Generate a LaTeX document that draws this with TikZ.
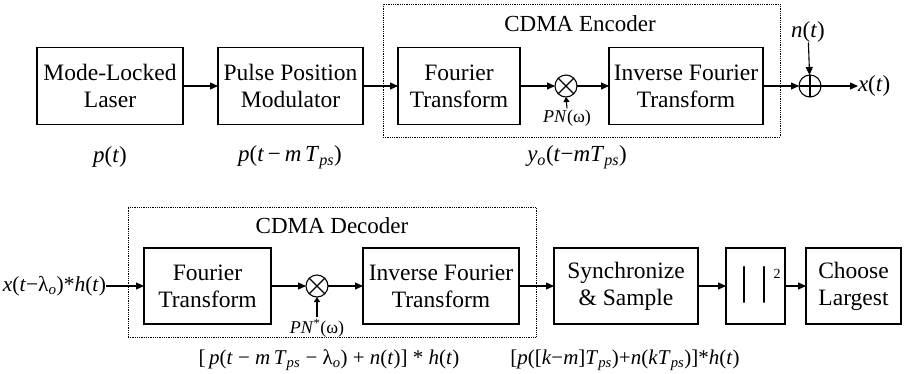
\documentclass[tikz,border=0pt]{standalone}
\usepackage{fontspec}
\setmainfont{Liberation Serif}
\usetikzlibrary{arrows.meta}
\newcommand\vi[1]{\textit{#1}}
\newcommand\sbi[1]{\textsubscript{\textit{#1}}}
\begin{document}
\begin{tikzpicture}[x=1pt,y=-1pt,
  every node/.style={inner sep=0pt, outer sep=0pt},
  blk/.style={draw, line width=1.1pt, align=center, minimum height=77pt,
    font=\fontsize{23.5}{27}\selectfont},
  grp/.style={draw, line width=0.8pt, densely dotted},
  arr/.style={line width=1.1pt, -{Triangle[length=8pt,width=7pt]}},
  sarr/.style={line width=1.1pt, -{Triangle[length=5pt,width=6pt]}},
  ln/.style={line width=1.1pt},
  op/.style={draw, circle, line width=1.1pt, minimum size=22pt},
  lbl/.style={font=\fontsize{23}{27}\selectfont},
  slbl/.style={font=\fontsize{21}{25}\selectfont},
  tlbl/.style={font=\fontsize{18}{20}\selectfont}]
\useasboundingbox (0,0) rectangle (915,373);

% ---- top row ----
\node[grp, minimum width=397pt, minimum height=133pt] (enc) at (581.5,70.5) {};
\node[lbl] (enct) at (580,24) {CDMA Encoder};
\node[blk, minimum width=146pt] (laser) at (110,86) {Mode-Locked\\Laser};
\node[blk, minimum width=145pt] (ppm) at (290.5,86) {Pulse Position\\Modulator};
\node[blk, minimum width=122pt] (ft1) at (459,86) {Fourier\\Transform};
\node[op] (m1) at (566,86) {};
\node[blk, minimum width=154pt] (ift1) at (686,86) {Inverse Fourier\\Transform};
\node[op] (add) at (810,86) {};
\node[tlbl] (pn1) at (567,118) {\vi{PN}(ω)};
\node[lbl] (nt) at (808,32) {\vi{n}(\vi{t})};
\node[lbl, anchor=west] (xt) at (858,86) {\vi{x}(\vi{t})};
\node[lbl] (pt) at (110,157) {\vi{p}(\vi{t})};
\node[lbl] (ptm) at (290,157) {\vi{p}(\vi{t}\,−\,\vi{m\,T}\sbi{ps})};
\node[lbl] (yo) at (577,157) {\vi{y}\sbi{o}(\vi{t}−\vi{mT}\sbi{ps})};

\draw[ln] (m1.north west) -- (m1.south east) (m1.north east) -- (m1.south west);
\draw[ln] (add.north) -- (add.south) (add.west) -- (add.east);
\draw[arr] (laser) -- (ppm);
\draw[arr] (ppm) -- (ft1);
\draw[arr] (ft1) -- (m1);
\draw[arr] (m1) -- (ift1);
\draw[arr] (ift1) -- (add);
\draw[arr] (add) -- (xt);
\draw[arr] (nt) -- (add);
\draw[sarr] ([yshift=1.5pt]pn1.north) -- (m1.south);

% ---- bottom row ----
\node[grp, minimum width=408pt, minimum height=130pt] (dec) at (332,272) {};
\node[lbl] (dect) at (332,226) {CDMA Decoder};
\node[font=\fontsize{21.5}{25}\selectfont, anchor=east] (inp) at (106,286) {\vi{x}(\vi{t}−λ\sbi{o})*\vi{h}(\vi{t})};
\node[blk, minimum width=127pt, minimum height=76pt] (ft2) at (207.5,286) {Fourier\\Transform};
\node[op] (m2) at (317,286) {};
\node[blk, minimum width=156pt, minimum height=76pt] (ift2) at (441,286) {Inverse Fourier\\Transform};
\node[blk, minimum width=144pt, minimum height=76pt] (sync) at (626,286) {Synchronize\\\&\ Sample};
\node[blk, minimum width=59pt, minimum height=76pt] (abs) at (755.5,286) {};
\node[font=\fontsize{40}{42}\selectfont] (bars) at (754,285) {|\hspace{12pt}|};
\node[font=\fontsize{14}{15}\selectfont] (sq) at (777,274) {2};
\node[blk, minimum width=95pt, minimum height=76pt] (choose) at (853.5,286) {Choose\\Largest};
\node[tlbl] (pn2) at (317,328) {\vi{PN}\textsuperscript{*}(ω)};
\node[slbl] (l1) at (329,360) {[\,\vi{p}(\vi{t} − \vi{m\,T}\sbi{ps} − λ\sbi{o}) + \vi{n}(\vi{t})] * \vi{h}(\vi{t})};
\node[slbl] (l2) at (625,360) {[\vi{p}([\vi{k}−\vi{m}]\vi{T}\sbi{ps})+\vi{n}(\vi{k}\vi{T}\sbi{ps})]*\vi{h}(\vi{t})};

\draw[ln] (m2.north west) -- (m2.south east) (m2.north east) -- (m2.south west);
\draw[arr] (inp) -- (ft2);
\draw[arr] (ft2) -- (m2);
\draw[arr] (m2) -- (ift2);
\draw[arr] (ift2) -- (sync);
\draw[arr] (sync) -- (abs);
\draw[arr] (abs) -- (choose);
\draw[sarr] ([yshift=1.5pt]pn2.north) -- (m2.south);
\end{tikzpicture}
\end{document}
